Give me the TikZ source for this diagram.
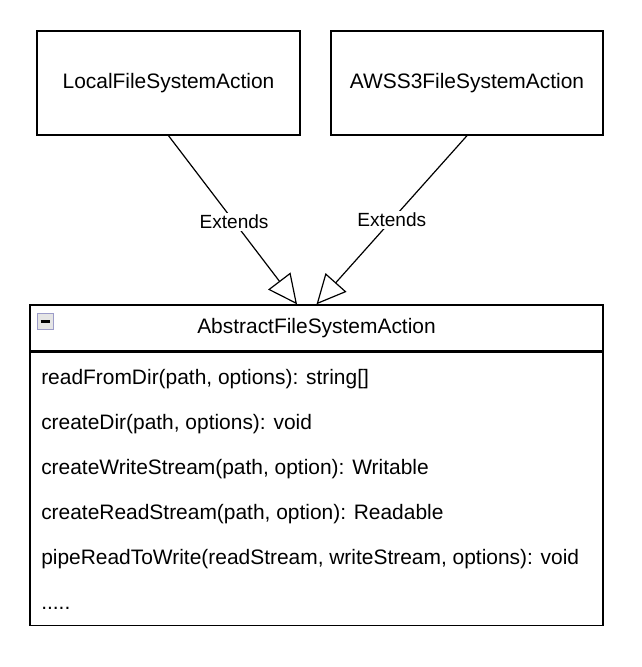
\documentclass[tikz,border=0pt]{standalone}
\usepackage{fontspec}
\setmainfont{Liberation Sans}
\usetikzlibrary{arrows.meta,positioning}

\begin{document}
\begin{tikzpicture}[
        x=0.75pt, y=-0.75pt,
        box/.style={rectangle, draw=black, line width=1pt, inner sep=0pt, minimum height=78pt, align=center, font=\fontsize{15.7}{18}\selectfont},
        classhead/.style={rectangle, draw=black, line width=1pt, inner sep=0pt, minimum width=429.75pt, minimum height=34.5pt, font=\fontsize{15.7}{18}\selectfont},
        classbody/.style={rectangle, draw=black, line width=1pt, inner sep=0pt, minimum width=429.75pt, minimum height=204.75pt},
        method/.style={anchor=base west, inner sep=0pt, font=\fontsize{15.7}{18}\selectfont},
        extends/.style={-{Triangle[open, length=22pt, width=21pt, fill=white]}, line width=0.9pt},
        elabel/.style={fill=white, inner sep=1.5pt, font=\fontsize{14.3}{16}\selectfont}
    ]
    \useasboundingbox (0,0) rectangle (642,667);

    % Subclasses
    \node[box, minimum width=197.25pt] (local) at (168.5,83) {LocalFileSystemAction};
    \node[box, minimum width=204pt] (aws) at (467,83) {AWSS3FileSystemAction};

    % Abstract class
    \node[classhead] (head) at (316.5,328) {AbstractFileSystemAction};
    \node[classbody, below=0pt of head] (body) {};
    \node[rectangle, draw=gray!70!blue!60, fill=gray!20, line width=0.9pt, minimum size=11.5pt, inner sep=0pt] (icon) at (45.5,321.5) {};
    \draw[line width=1.8pt] ([xshift=-3.6pt]icon.center) -- ([xshift=3.6pt]icon.center);

    % Methods
    \node[method] (m1) at (41,384) {readFromDir(path, options): string[]};
    \node[method] (m2) at (41,429) {createDir(path, options): void};
    \node[method] (m3) at (41,474) {createWriteStream(path, option): Writable};
    \node[method] (m4) at (41,519) {createReadStream(path, option): Readable};
    \node[method] (m5) at (41,564) {pipeReadToWrite(readStream, writeStream, options): void};
    \node[method] (m6) at (41,609) {.....};

    % Inheritance
    \coordinate (tipL) at ([xshift=-14.6pt]head.north);
    \draw[extends] (local.south) -- node[elabel, pos=0.51] {Extends} (tipL);
    \draw[extends] (aws.south) -- node[elabel] {Extends} (head.north);

\end{tikzpicture}
\end{document}
